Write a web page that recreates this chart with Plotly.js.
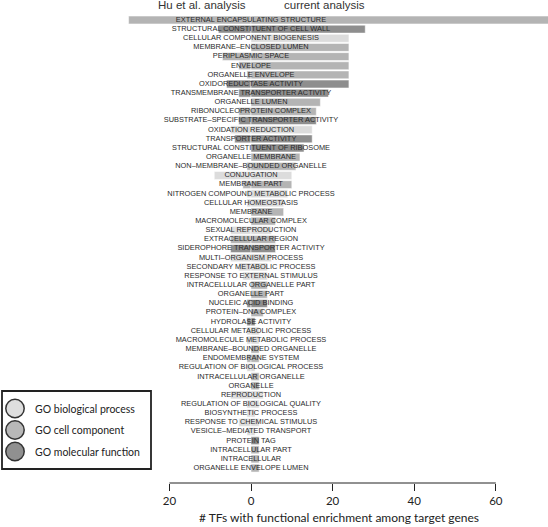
<!DOCTYPE html>
<html>
<head>
<meta charset="utf-8">
<script src="https://cdn.plot.ly/plotly-3.0.1.min.js"></script>
<style>html,body{margin:0;padding:0;background:#fff;}#chart{width:548px;height:527px;}</style>
</head>
<body>
<div id="chart"></div>
<script>
const labels = [
"EXTERNAL ENCAPSULATING STRUCTURE","STRUCTURAL CONSTITUENT OF CELL WALL","CELLULAR COMPONENT BIOGENESIS",
"MEMBRANE\u2013ENCLOSED LUMEN","PERIPLASMIC SPACE","ENVELOPE","ORGANELLE ENVELOPE","OXIDOREDUCTASE ACTIVITY",
"TRANSMEMBRANE TRANSPORTER ACTIVITY","ORGANELLE LUMEN","RIBONUCLEOPROTEIN COMPLEX",
"SUBSTRATE\u2013SPECIFIC TRANSPORTER ACTIVITY","OXIDATION REDUCTION","TRANSPORTER ACTIVITY",
"STRUCTURAL CONSTITUENT OF RIBOSOME","ORGANELLE MEMBRANE","NON\u2013MEMBRANE\u2013BOUNDED ORGANELLE","CONJUGATION",
"MEMBRANE PART","NITROGEN COMPOUND METABOLIC PROCESS","CELLULAR HOMEOSTASIS","MEMBRANE","MACROMOLECULAR COMPLEX",
"SEXUAL REPRODUCTION","EXTRACELLULAR REGION","SIDEROPHORE TRANSPORTER ACTIVITY","MULTI\u2013ORGANISM PROCESS",
"SECONDARY METABOLIC PROCESS","RESPONSE TO EXTERNAL STIMULUS","INTRACELLULAR ORGANELLE PART","ORGANELLE PART",
"NUCLEIC ACID BINDING","PROTEIN\u2013DNA COMPLEX","HYDROLASE ACTIVITY","CELLULAR METABOLIC PROCESS",
"MACROMOLECULE METABOLIC PROCESS","MEMBRANE\u2013BOUNDED ORGANELLE","ENDOMEMBRANE SYSTEM",
"REGULATION OF BIOLOGICAL PROCESS","INTRACELLULAR ORGANELLE","ORGANELLE","REPRODUCTION",
"REGULATION OF BIOLOGICAL QUALITY","BIOSYNTHETIC PROCESS","RESPONSE TO CHEMICAL STIMULUS",
"VESICLE\u2013MEDIATED TRANSPORT","PROTEIN TAG","INTRACELLULAR PART","INTRACELLULAR","ORGANELLE ENVELOPE LUMEN"
];
const goTypes = ["cc","mf","bp","cc","cc","cc","cc","mf","mf","cc","cc","mf","bp","mf","mf","cc","cc","bp","cc","bp",
"bp","cc","cc","bp","cc","mf","bp","bp","bp","cc","cc","mf","cc","mf","bp","bp","cc","cc","bp","cc",
"cc","bp","bp","bp","bp","bp","mf","cc","cc","cc"];
const huCounts = [30,8,0,0,7,3,1,6,3,0,3,3,5,4,0,0,1,9,2,1,1,0,0,5,5,5,5,3,2,0,0,1,0,1,1,1,0,1,1,0,0,5,1,1,3,1,0,0,0,0];
const currentCounts = [75,28,24,24,24,24,24,24,19,17,16,16,15,15,13,12,11,10,10,9,8,8,6,5,6,6,5,4,4,4,4,4,3,1,2,2,2,2,1,2,2,3,2,1,2,1,2,2,2,2];
const tickValues = [-20,0,20,40,60];
const tickLabels = ["20","0","20","40","60"];
const legendNames = ["GO biological process","GO cell component","GO molecular function"];
const legendKeys = ["bp","cc","mf"];

const typeColors = {bp:"#dcdcdc", cc:"#b4b4b4", mf:"#8e8e8e"};
const legendFill = {bp:"#dedede", cc:"#b8b8b8", mf:"#909090"};
const rows = labels.map((_, i) => i);
const barColors = goTypes.map(t => typeColors[t]);

const W = 548, H = 527, MB = 44;
const PH = H - MB;
const rowStep = 9.145, firstRow = 20;
const yTop = -firstRow / rowStep, yBot = (PH - firstRow) / rowStep;

const traces = [
  {type:"bar", orientation:"h", y:rows, x:huCounts.map(v => -v), width:0.86,
   marker:{color:barColors, line:{color:"#ffffff", width:0.5}}, hoverinfo:"skip", showlegend:false},
  {type:"bar", orientation:"h", y:rows, x:currentCounts, width:0.86,
   marker:{color:barColors, line:{color:"#ffffff", width:0.5}}, hoverinfo:"skip", showlegend:false},
  {type:"scatter", mode:"text", y:rows, x:rows.map(() => 0), text:labels, textposition:"middle center",
   textfont:{family:"Liberation Sans, Arial, sans-serif", size:7.4, color:"#2a2a2a"},
   cliponaxis:false, hoverinfo:"skip", showlegend:false}
];

const shapes = [
  {type:"line", xref:"x", yref:"paper", x0:-20, x1:60, y0:0, y1:0, line:{color:"#222", width:1}}
];
const annotations = [
  {text:"Hu et al. analysis", xref:"x", yref:"paper", x:(202-251)/4.08, y:1-5/PH, showarrow:false,
   font:{family:"Liberation Sans, Arial, sans-serif", size:11.5, color:"#333"}, xanchor:"center", yanchor:"middle"},
  {text:"current analysis", xref:"x", yref:"paper", x:(324-251)/4.08, y:1-5/PH, showarrow:false,
   font:{family:"Liberation Sans, Arial, sans-serif", size:11.5, color:"#333"}, xanchor:"center", yanchor:"middle"},
  {text:"# TFs with functional enrichment among target genes", xref:"x", yref:"paper", x:(339-251)/4.08,
   y:1-517/PH, showarrow:false, xanchor:"center", yanchor:"middle",
   font:{family:"Lato, Open Sans, sans-serif", size:12, color:"#222"}}
];

// legend box
const px = v => v / W, py = v => 1 - v / PH;
shapes.push({type:"rect", xref:"paper", yref:"paper", x0:px(2), x1:px(151), y0:py(469), y1:py(391),
  line:{color:"#222", width:1.8}, fillcolor:"rgba(255,255,255,0)"});
const legY = [408.5, 430, 451.5];
legendKeys.forEach((k, i) => {
  const r = 9.2;
  shapes.push({type:"circle", xref:"paper", yref:"paper", x0:px(15-r), x1:px(15+r), y0:py(legY[i]+r), y1:py(legY[i]-r),
    line:{color:"#333", width:1.5}, fillcolor:legendFill[k]});
  annotations.push({text:legendNames[i], xref:"paper", yref:"paper", x:px(33), y:py(legY[i]), showarrow:false,
    xanchor:"left", yanchor:"middle", font:{family:"Lato, Open Sans, sans-serif", size:10.5, color:"#222"}});
});

const layout = {
  width:W, height:H, margin:{l:0, r:0, t:0, b:MB, pad:0},
  paper_bgcolor:"#fff", plot_bgcolor:"#fff",
  barmode:"relative", showlegend:false,
  xaxis:{range:[-251/4.08, (W-251)/4.08], tickvals:tickValues, ticktext:tickLabels, ticks:"outside",
    ticklen:7, tickwidth:1, tickcolor:"#222", showline:false, showgrid:false, zeroline:false,
    tickfont:{family:"Lato, Open Sans, sans-serif", size:11.5, color:"#222"}, fixedrange:true},
  yaxis:{range:[yBot, yTop], showticklabels:false, ticks:"", showgrid:false, zeroline:false, showline:false, fixedrange:true},
  shapes:shapes, annotations:annotations
};
Plotly.newPlot("chart", traces, layout, {displayModeBar:false, staticPlot:true});
</script>
</body>
</html>
